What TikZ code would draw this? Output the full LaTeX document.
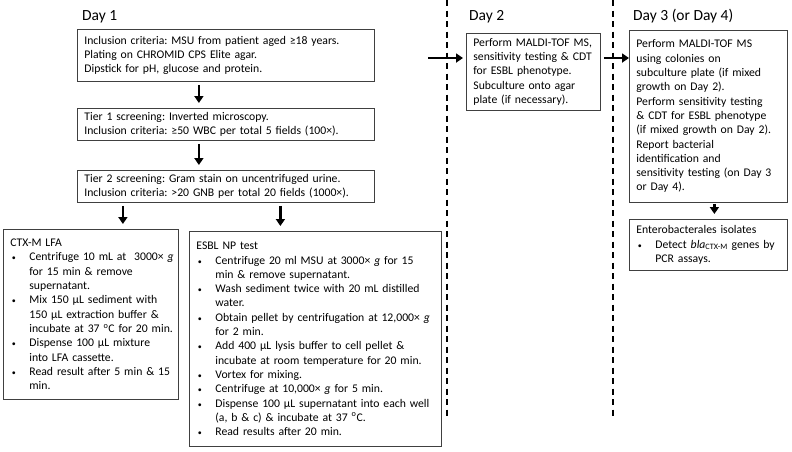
\documentclass[tikz,border=0pt]{standalone}
\usepackage{fontspec}
\setmainfont{Carlito}
\usetikzlibrary{arrows.meta}
\setlength{\parindent}{0pt}
\frenchspacing
\def\txt{\fontsize{11.7}{14.3}\selectfont}
\def\itm#1{\par\noindent\makebox[19pt][l]{\hspace{1.5pt}{\fontsize{8}{8}\selectfont\textbullet}}\mbox{#1}}
\def\cnt#1{\par\noindent\hspace*{19pt}\mbox{#1}}
\def\oC{\textsuperscript{o}C}
\def\grav{\textit{g}}

\begin{document}
\begin{tikzpicture}[x=1pt,y=-1pt,
  box/.style={draw=black!75, line width=0.8pt, anchor=north west, inner xsep=7pt, inner ysep=3pt, align=left, font=\txt},
  flow/.style={line width=2.6pt, -{Triangle[length=7pt,width=9pt]}, shorten <=3pt, shorten >=5pt},
  daylabel/.style={anchor=base west, inner sep=0pt, font=\fontsize{15.5}{18}\selectfont},
  sep/.style={line width=1.6pt, dash pattern=on 6pt off 4.5pt}]
\useasboundingbox (0,0) rectangle (792,451);

       \node [daylabel] at (82,20) (day1) {Day 1};
       \node [daylabel] at (469,20) (day2) {Day 2};
       \node [daylabel] at (633,20) (day3) {Day 3 (or Day 4)};

       \node [box, text width=283pt, minimum width=297pt, minimum height=52pt] at (77,29) (incl) {Inclusion criteria: MSU from patient aged ≥18 years.\\
       Plating on CHROMID CPS Elite agar.\\
       Dipstick for pH, glucose and protein.};
       \node [box, text width=283pt, minimum width=297pt, minimum height=32pt] at (77,108) (tier1) {Tier 1 screening: Inverted microscopy.\\
       Inclusion criteria: ≥50 WBC per total 5 fields (100×).};
       \node [box, text width=283pt, minimum width=297pt, minimum height=32pt] at (77,170) (tier2) {Tier 2 screening: Gram stain on uncentrifuged urine.\\
       Inclusion criteria: >20 GNB per total 20 fields (1000×).};

       \node [box, text width=161pt, minimum width=175pt, minimum height=170pt] at (3,229) (ctx) {CTX-M LFA
       \itm{Centrifuge 10 mL at \ 3000× \grav}\cnt{for 15 min \& remove}\cnt{supernatant.}
       \itm{Mix 150 μL sediment with}\cnt{150 μL extraction buffer \&}\cnt{incubate at 37 \oC{} for 20 min.}
       \itm{Dispense 100 μL mixture}\cnt{into LFA cassette.}
       \itm{Read result after 5 min \& 15}\cnt{min.}};

       \node [box, text width=238pt, minimum width=252pt, minimum height=215pt] at (189,231) (esbl) {ESBL NP test
       \itm{Centrifuge 20 ml MSU at 3000× \grav{} for 15}\cnt{min \& remove supernatant.}
       \itm{Wash sediment twice with 20 mL distilled}\cnt{water.}
       \itm{Obtain pellet by centrifugation at 12,000× \grav}\cnt{for 2 min.}
       \itm{Add 400 μL lysis buffer to cell pellet \&}\cnt{incubate at room temperature for 20 min.}
       \itm{Vortex for mixing.}
       \itm{Centrifuge at 10,000× \grav{} for 5 min.}
       \itm{Dispense 100 μL supernatant into each well}\cnt{(a, b \& c) \& incubate at 37 \oC.}
       \itm{Read results after 20 min.}};

       \node [box, text width=120pt, minimum width=134pt, minimum height=77pt] at (466,33) (d2) {Perform MALDI-TOF MS,\\
       sensitivity testing \& CDT\\
       for ESBL phenotype.\\
       Subculture onto agar\\
       plate (if necessary).};

       \node [box, text width=144pt, minimum width=158pt, minimum height=172pt] at (629,30) (d3) {Perform MALDI-TOF MS\\
       using colonies on\\
       subculture plate (if mixed\\
       growth on Day 2).\\
       Perform sensitivity testing\\
       \& CDT for ESBL phenotype\\
       (if mixed growth on Day 2).\\
       Report bacterial\\
       identification and\\
       sensitivity testing (on Day 3\\
       or Day 4).};

       \node [box, text width=144pt, minimum width=158pt, minimum height=51pt] at (629,219) (ent) {Enterobacterales isolates
       \itm{Detect \textit{bla}\textsubscript{CTX-M} genes by}\cnt{PCR assays.}};
%
\draw [sep] (447,0) -- (447,418);
\draw [sep] (613,0) -- (613,418);
\coordinate (day1out) at (428,58);
%
\draw [flow] ([xshift=-27pt]incl.south) -- ([xshift=-27pt]tier1.north);
\draw [flow] ([xshift=-27pt]tier1.south) -- ([xshift=-27pt]tier2.north);
\draw [flow] ([xshift=32pt]ctx.north |- tier2.south) -- ([xshift=32pt]ctx.north);
\draw [flow] ([xshift=-35pt]esbl.north |- tier2.south) -- ([xshift=-35pt]esbl.north);
\draw [flow, shorten <=0pt, shorten >=3pt] (day1out) -- (day1out -| d2.west);
\draw [flow, shorten >=0pt] (day1out -| d2.east) -- (day1out -| d3.west);
\draw [flow, shorten <=1pt] ([xshift=6pt]d3.south) -- ([xshift=6pt]d3.south |- ent.north);

\end{tikzpicture}
\end{document}
